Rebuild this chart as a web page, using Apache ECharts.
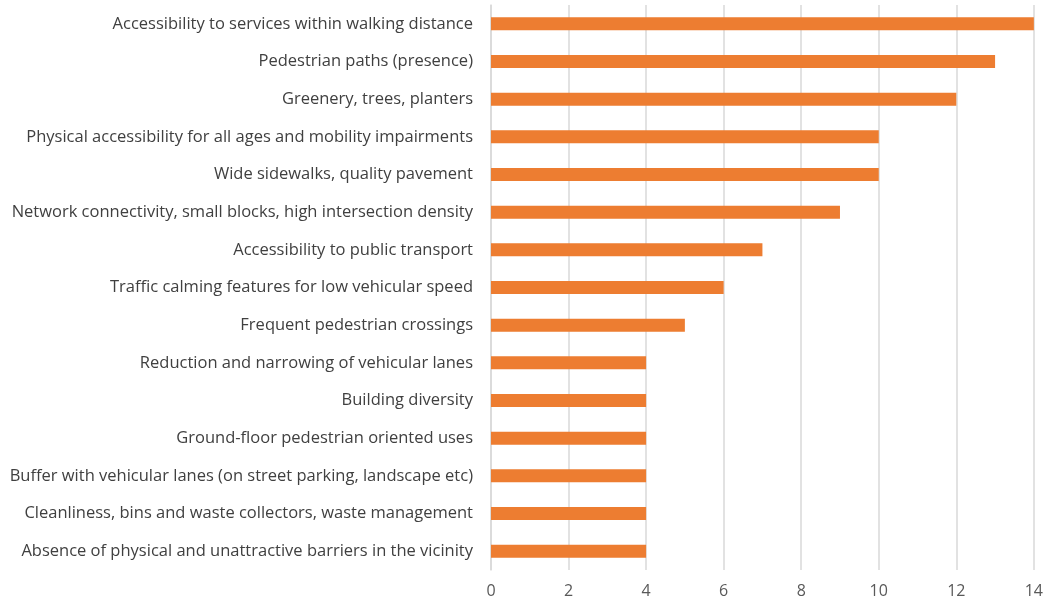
<!DOCTYPE html>
<html><head><meta charset="utf-8">
<script src="https://cdn.jsdelivr.net/npm/echarts@6/dist/echarts.min.js"></script>
<style>html,body{margin:0;padding:0;background:#fff}#c{width:1046px;height:604px}</style>
</head><body><div id="c"></div>
<script>
const categories = [
  "Accessibility to services within walking distance",
  "Pedestrian paths (presence)",
  "Greenery, trees, planters",
  "Physical accessibility for all ages and mobility impairments",
  "Wide sidewalks, quality pavement",
  "Network connectivity, small blocks, high intersection density",
  "Accessibility to public transport",
  "Traffic calming features for low vehicular speed",
  "Frequent pedestrian crossings",
  "Reduction and narrowing of vehicular lanes",
  "Building diversity",
  "Ground-floor pedestrian oriented uses",
  "Buffer with vehicular lanes (on street parking, landscape etc)",
  "Cleanliness, bins and waste collectors, waste management",
  "Absence of physical and unattractive barriers in the vicinity"
];
const values = [14, 13, 12, 10, 10, 9, 7, 6, 5, 4, 4, 4, 4, 4, 4];

const chart = echarts.init(document.getElementById('c'), null, {renderer: 'canvas'});
chart.setOption({
  animation: false,
  grid: {left: 491, right: 8, top: 5, bottom: 34, containLabel: false},
  xAxis: {
    type: 'value', min: 0, max: 14, interval: 2,
    axisLine: {show: false}, axisTick: {show: false},
    splitLine: {show: true, lineStyle: {color: '#d9d9d9', width: 1.5}},
    axisLabel: {color: '#595959', fontSize: 16, margin: 13, fontFamily: 'Open Sans'}
  },
  yAxis: {
    type: 'category', data: categories, inverse: true,
    axisLine: {show: true, lineStyle: {color: '#d9d9d9', width: 1.5}},
    axisTick: {show: false},
    axisLabel: {color: '#404040', fontSize: 16.5, margin: 18, fontFamily: 'Open Sans'}
  },
  series: [{
    type: 'bar', data: values, barWidth: 13,
    itemStyle: {color: '#ED7D31'}
  }]
});
</script></body></html>
